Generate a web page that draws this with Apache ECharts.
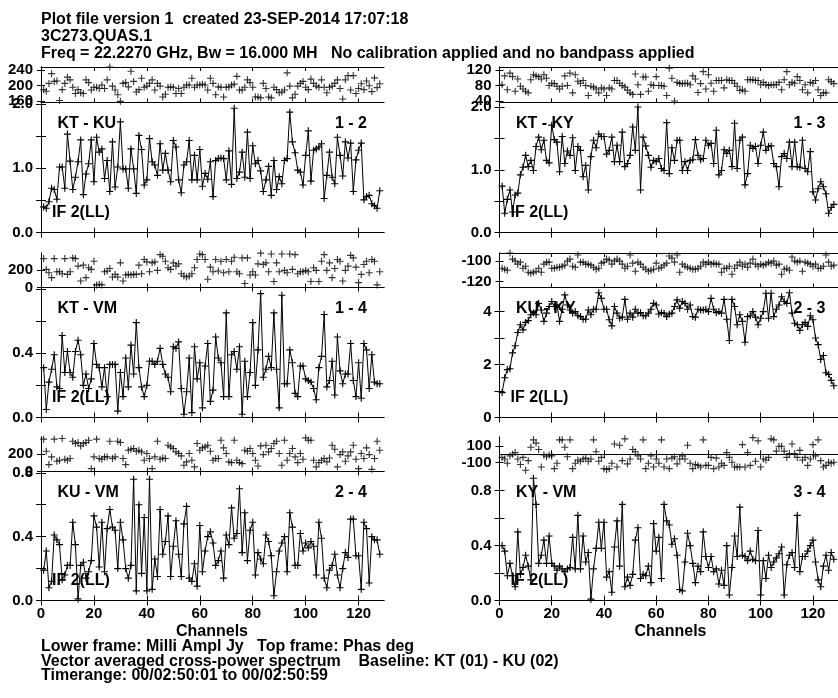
<!DOCTYPE html>
<html>
<head>
<meta charset="utf-8">
<script src="https://cdn.jsdelivr.net/npm/echarts@6/dist/echarts.min.js"></script>
<style>
html, body { margin: 0; padding: 0; background: #fff; }
#chart { width: 838px; height: 698px; }
</style>
</head>
<body>
<div id="chart"></div>
<script>
// channel axis ticks
var xTicks = [0, 20, 40, 60, 80, 100, 120];

// amplitudes (lower frames), channels 1..128
var ampKTKU = [0.40,0.38,0.48,0.69,0.67,0.52,1.02,1.02,0.69,1.53,
 1.11,0.67,0.86,1.10,1.44,0.59,0.91,1.07,1.44,0.79,
 1.48,1.25,1.30,0.84,1.12,0.64,1.41,0.71,1.02,1.72,
 0.99,0.99,0.69,1.30,0.99,0.61,1.51,1.29,0.74,0.82,
 1.46,1.10,1.05,0.89,1.38,0.97,1.23,0.97,0.79,1.43,
 1.33,0.82,0.62,1.05,1.10,1.43,0.82,1.20,0.82,1.29,
 0.72,0.92,0.83,1.10,0.56,1.12,1.15,1.16,1.15,0.82,
 1.27,0.75,1.93,0.84,0.94,1.25,0.86,1.56,0.84,1.35,
 1.07,1.12,0.96,0.64,0.82,1.03,0.58,1.12,0.67,0.87,
 0.76,1.12,1.15,1.87,1.41,1.24,0.97,0.94,0.74,1.20,
 1.58,0.80,1.28,1.30,1.33,1.38,0.53,0.89,1.25,0.86,
 0.76,1.48,1.20,0.88,1.41,1.16,1.39,0.64,1.13,1.28,
 1.39,0.51,0.56,0.58,0.45,0.42,0.38,0.65];

var ampKTKY = [0.74,0.31,0.53,0.68,0.33,0.60,0.63,0.92,1.04,1.23,
 1.05,1.15,0.99,1.37,1.52,1.32,1.47,1.15,1.11,1.71,
 1.48,1.44,0.97,1.53,1.10,1.30,1.23,1.51,0.99,1.37,
 1.31,0.89,1.07,0.68,1.21,1.47,1.35,1.57,1.53,1.53,
 1.25,1.31,1.52,1.13,1.39,1.13,1.60,1.05,1.10,1.23,
 1.68,1.31,2.00,0.68,1.52,1.38,1.23,1.04,1.15,1.13,
 1.18,1.02,0.99,1.75,0.94,1.35,1.15,1.47,1.47,0.99,
 1.13,0.99,1.15,1.16,1.48,1.23,1.16,1.18,1.47,1.39,
 1.42,1.10,1.63,0.92,0.99,1.32,1.26,1.31,1.05,1.74,
 1.02,1.47,1.52,0.76,0.94,1.39,1.34,1.37,1.10,1.39,
 1.60,1.31,1.37,1.38,1.10,1.05,0.73,1.21,1.26,1.18,
 1.44,1.05,1.44,1.05,1.04,1.47,1.02,0.97,1.29,0.65,
 0.52,0.70,0.81,0.73,0.62,0.31,0.40,0.45];

var ampKTVM = [0.31,0.05,0.22,0.30,0.39,0.19,0.18,0.51,0.28,0.41,
 0.28,0.25,0.41,0.48,0.39,0.20,0.27,0.18,0.24,0.46,
 0.33,0.31,0.19,0.31,0.13,0.33,0.33,0.33,0.04,0.28,
 0.13,0.37,0.19,0.45,0.27,0.59,0.31,0.19,0.13,0.20,
 0.35,0.35,0.33,0.35,0.43,0.33,0.27,0.25,0.16,0.44,
 0.43,0.47,0.18,0.02,0.16,0.37,0.03,0.44,0.24,0.34,
 0.06,0.32,0.46,0.10,0.17,0.50,0.37,0.34,0.13,0.65,
 0.13,0.39,0.41,0.30,0.44,0.02,0.35,0.13,0.28,0.59,
 0.20,0.42,0.77,0.25,0.30,0.38,0.31,0.65,0.30,0.06,
 0.76,0.21,0.21,0.42,0.34,0.15,0.13,0.32,0.32,0.24,
 0.23,0.22,0.18,0.11,0.31,0.38,0.64,0.19,0.23,0.35,
 0.14,0.50,0.29,0.21,0.27,0.27,0.46,0.23,0.13,0.34,
 0.12,0.46,0.42,0.18,0.39,0.22,0.21,0.21];

var ampKUKY = [0.94,1.50,1.81,1.84,2.44,2.71,3.21,3.50,3.31,3.59,
 3.66,3.88,3.96,3.88,4.31,4.06,3.63,3.94,4.19,4.38,
 4.19,4.25,3.63,4.09,4.63,4.25,4.06,3.94,4.00,3.84,
 3.81,3.71,3.71,4.06,3.88,4.09,4.09,4.71,4.50,4.09,
 4.09,3.69,3.46,4.19,3.94,3.75,3.79,4.46,3.71,3.94,
 3.79,4.09,3.94,3.96,3.84,3.84,3.94,4.09,4.31,4.25,
 3.91,3.96,3.94,3.81,3.91,3.94,4.19,4.44,4.13,4.38,
 4.31,4.09,4.25,3.81,3.79,4.09,4.06,4.06,4.09,4.00,
 4.50,4.09,3.96,4.00,3.94,4.46,3.71,2.91,4.46,4.19,
 3.50,3.88,3.63,2.84,3.81,3.84,4.00,3.79,3.50,3.75,
 4.00,4.69,3.75,4.69,3.81,4.09,4.25,4.56,4.38,4.31,
 4.71,3.94,3.56,3.50,3.29,3.50,3.59,3.44,3.84,3.69,
 3.00,2.75,2.19,2.34,1.69,1.63,1.40,1.20];

var ampKUVM = [0.19,0.31,0.08,0.12,0.41,0.38,0.35,0.13,0.16,0.22,
 0.22,0.49,0.35,0.01,0.22,0.24,0.14,0.18,0.25,0.53,
 0.46,0.21,0.49,0.18,0.45,0.57,0.46,0.44,0.20,0.49,
 0.38,0.20,0.14,0.22,0.76,0.06,0.60,0.17,0.52,0.06,
 0.76,0.07,0.26,0.15,0.57,0.29,0.37,0.53,0.15,0.34,
 0.50,0.29,0.15,0.48,0.59,0.14,0.12,0.23,0.09,0.47,
 0.18,0.31,0.40,0.43,0.36,0.22,0.25,0.31,0.14,0.41,
 0.35,0.58,0.39,0.42,0.70,0.30,0.55,0.25,0.44,0.49,
 0.16,0.30,0.26,0.23,0.41,0.37,0.28,0.03,0.18,0.31,
 0.36,0.40,0.18,0.55,0.46,0.22,0.22,0.42,0.31,0.36,
 0.33,0.37,0.34,0.16,0.49,0.39,0.14,0.08,0.19,0.22,
 0.29,0.16,0.08,0.20,0.30,0.27,0.51,0.51,0.28,0.28,
 0.07,0.49,0.45,0.11,0.40,0.38,0.38,0.29];

var ampKYVM = [0.40,0.36,0.18,0.27,0.18,0.10,0.50,0.19,0.24,0.33,
 0.25,0.15,0.89,0.70,0.27,0.33,0.44,0.27,0.47,0.27,
 0.25,0.22,0.25,0.23,0.21,0.23,0.24,0.46,0.23,0.62,
 0.23,0.47,0.28,0.35,0.01,0.23,0.38,0.57,0.38,0.57,
 0.17,0.21,0.06,0.39,0.58,0.25,0.70,0.10,0.17,0.11,
 0.19,0.44,0.53,0.16,0.19,0.18,0.25,0.13,0.56,0.36,
 0.46,0.16,0.70,0.58,0.55,0.41,0.45,0.33,0.08,0.07,
 0.28,0.49,0.40,0.27,0.13,0.25,0.21,0.50,0.32,0.24,
 0.32,0.21,0.23,0.12,0.22,0.11,0.40,0.04,0.24,0.47,
 0.32,0.68,0.33,0.32,0.29,0.36,0.30,0.29,0.51,0.04,
 0.29,0.16,0.33,0.24,0.28,0.31,0.34,0.39,0.04,0.26,
 0.33,0.35,0.24,0.62,0.21,0.32,0.32,0.36,0.40,0.44,
 0.28,0.15,0.10,0.25,0.33,0.22,0.35,0.30];

// phases (top frames), degrees
var phKTKU = [190,186,206,231,211,212,162,190,206,222,
 215,196,180,190,182,180,215,208,189,196,
 196,193,202,193,215,248,199,189,177,160,
 206,208,197,237,211,184,190,219,196,199,
 206,215,189,206,199,171,178,196,197,196,
 180,193,180,196,202,202,219,196,202,202,
 204,202,189,219,206,177,197,196,171,196,
 197,202,204,224,189,189,196,215,208,196,
 171,171,169,206,193,171,169,196,190,182,
 184,189,233,199,169,178,199,206,211,196,
 190,217,206,199,196,215,196,182,196,199,
 206,215,193,166,215,226,189,226,180,193,
 205,190,212,200,185,220,195,205];

var phKTKY = [82,105,69,112,103,65,97,78,71,65,
 61,95,108,105,103,97,108,99,80,86,
 85,78,71,78,105,80,112,61,108,91,
 86,93,80,54,78,76,71,61,74,71,
 54,74,71,93,93,86,80,76,68,61,
 57,110,82,57,102,102,65,82,80,103,
 80,80,78,54,125,99,40,88,85,85,
 86,86,82,105,97,62,85,116,71,108,
 86,65,93,93,93,74,95,93,93,86,
 78,67,69,65,95,95,95,93,93,82,
 88,82,80,82,82,82,88,69,95,116,
 82,88,86,103,93,69,82,61,88,86,
 93,69,54,61,61,95,90,85];

var phKTVM = [335,210,171,114,335,183,183,160,335,152,
 183,343,335,248,76,259,114,229,210,305,
 30,38,30,183,191,221,122,152,122,286,
 76,145,152,145,152,152,259,160,324,297,
 183,286,297,198,381,362,305,229,210,286,
 248,274,160,133,122,133,160,229,324,389,
 381,324,95,236,183,324,191,305,171,324,
 183,305,351,183,160,343,46,343,145,183,
 145,274,398,267,286,183,389,69,286,183,
 389,198,171,389,210,381,160,183,183,198,
 183,69,229,198,69,305,381,198,286,114,
 221,324,305,76,198,248,373,343,236,57,
 152,267,305,171,324,305,30,183];

var phKUKY = [-107,-108,-109,-92,-98,-100,-103,-101,-107,-105,
 -111,-112,-111,-110,-107,-111,-103,-101,-101,-107,
 -107,-106,-106,-105,-104,-100,-98,-105,-106,-94,
 -101,-101,-103,-103,-104,-106,-108,-107,-102,-101,
 -98,-99,-103,-100,-98,-100,-103,-107,-105,-94,
 -102,-110,-101,-103,-106,-108,-110,-109,-108,-102,
 -107,-106,-104,-102,-95,-97,-101,-94,-111,-103,
 -105,-106,-107,-108,-108,-107,-105,-101,-103,-101,
 -103,-102,-103,-103,-111,-107,-107,-105,-113,-107,
 -104,-101,-105,-103,-106,-102,-98,-103,-105,-103,
 -104,-103,-101,-102,-100,-104,-103,-113,-108,-107,
 -109,-96,-100,-101,-100,-110,-101,-102,-103,-105,
 -103,-107,-107,-105,-94,-101,-105,-104];

var phKUVM = [375,235,80,169,375,119,130,382,142,130,
 150,351,324,336,297,324,336,363,33,169,
 375,150,142,169,169,351,150,169,351,336,
 150,80,246,258,266,235,246,227,130,208,
 150,33,169,351,142,157,150,305,285,266,
 227,208,181,72,111,208,130,53,324,246,
 274,285,305,235,130,150,150,363,274,208,
 111,103,363,130,103,91,246,235,266,208,
 130,64,297,196,305,227,266,324,351,208,
 72,363,130,208,266,169,103,208,142,390,
 363,363,130,53,103,130,150,111,157,305,
 258,53,196,227,119,181,227,305,142,33,
 208,150,274,196,25,150,351,246];

var phKYVM = [-39,-59,-110,-20,0,20,-59,-126,-39,-196,
 -79,86,177,137,59,-157,-8,-31,-8,-20,
 -177,-110,177,177,86,-31,177,-177,-110,-71,
 -86,-59,-47,-86,-59,177,31,-86,-39,-177,
 -188,-177,-110,126,-157,110,-79,189,-118,-59,
 59,31,-20,-59,177,-177,-110,-20,-157,-59,
 -110,177,-157,-59,-177,-47,-31,-118,-59,-20,
 -59,110,-110,-177,-126,-137,-157,177,-137,-137,
 -39,-177,-47,-157,-110,-137,20,-39,-98,-157,
 -157,-157,118,-157,20,-137,204,-86,165,-157,
 -59,-71,-39,189,177,39,98,98,39,-39,
 8,126,8,-39,47,-71,-39,-137,-59,118,
 -20,177,-79,-157,-137,-98,-110,-98];

var titleLines = ['Plot file version 1  created 23-SEP-2014 17:07:18',
  '3C273.QUAS.1',
  'Freq = 22.2270 GHz, Bw = 16.000 MH   No calibration applied and no bandpass applied'];
var footLines = ['Lower frame: Milli Ampl Jy   Top frame: Phas deg',
  'Vector averaged cross-power spectrum    Baseline: KT (01) - KU (02)',
  'Timerange: 00/02:50:01 to 00/02:50:59'];

var panels = [
  {col: 0, row: 0, name: 'KT - KU', pair: '1 - 2', amp: ampKTKU, ph: phKTKU,
   aMax: 2.0, aTicks: [0, 0.5, 1, 1.5, 2], aLabels: [0, 1, 2], aDec: 1,
   pMin: 157, pMax: 248, pTicks: [160, 200, 240]},
  {col: 1, row: 0, name: 'KT - KY', pair: '1 - 3', amp: ampKTKY, ph: phKTKY,
   aMax: 2.05, aTicks: [0, 0.5, 1, 1.5, 2], aLabels: [0, 1, 2], aDec: 1,
   pMin: 36, pMax: 128, pTicks: [40, 80, 120]},
  {col: 0, row: 1, name: 'KT - VM', pair: '1 - 4', amp: ampKTVM, ph: phKTVM,
   aMax: 0.8, aTicks: [0, 0.2, 0.4, 0.6, 0.8], aLabels: [0, 0.4], aDec: 1,
   pMin: 0, pMax: 400, pTicks: [0, 200]},
  {col: 1, row: 1, name: 'KU - KY', pair: '2 - 3', amp: ampKUKY, ph: phKUKY,
   aMax: 4.86, aTicks: [0, 1, 2, 3, 4], aLabels: [0, 2, 4], aDec: 0,
   pMin: -126, pMax: -92, pTicks: [-120, -100]},
  {col: 0, row: 2, name: 'KU - VM', pair: '2 - 4', amp: ampKUVM, ph: phKUVM,
   aMax: 0.8, aTicks: [0, 0.2, 0.4, 0.6, 0.8], aLabels: [0, 0.4, 0.8], aDec: 1,
   pMin: 0, pMax: 400, pTicks: [0, 200]},
  {col: 1, row: 2, name: 'KY - VM', pair: '3 - 4', amp: ampKYVM, ph: phKYVM,
   aMax: 0.93, aTicks: [0, 0.2, 0.4, 0.6, 0.8], aLabels: [0, 0.4, 0.8], aDec: 1,
   pMin: -212, pMax: 212, pTicks: [-100, 100], zeroLine: true}
];

var colX = [41, 499.5];
var panelW = 343;
var xMax = 129.6;
var rows = [
  {phTop: 67, phBot: 102.5, amTop: 103.8, amBot: 232.7},
  {phTop: 253, phBot: 287.5, amTop: 288.8, amBot: 417.5},
  {phTop: 437, phBot: 471.5, amTop: 472.8, amBot: 600.5}
];

var FONT = '"Liberation Sans", Arial, sans-serif';
var plusSym = 'path://M0,4.2H10V5.8H0Z M4.2,0H5.8V10H4.2Z';

var grids = [], xAxes = [], yAxes = [], series = [], graphics = [];

function toPairs(arr) {
  return arr.map(function (v, i) { return [i + 1, v]; });
}

function addFrame(left, top, bottom, yMin, yMax, yTicks, yLabels, yDec, showX, tickLen) {
  var gi = grids.length;
  grids.push({left: left, top: top, width: panelW, height: bottom - top, show: false});
  var line = {show: true, lineStyle: {color: '#000', width: 1}};
  var lbl = {fontFamily: FONT, fontSize: 15, fontWeight: 'bold', color: '#000', lineHeight: 10,
    showMinLabel: true, showMaxLabel: true, hideOverlap: false};
  [['bottom', showX], ['top', false]].forEach(function (p) {
    xAxes.push({
      gridIndex: gi, type: 'value', position: p[0], min: 0, max: xMax,
      axisLine: line,
      axisTick: {show: true, inside: true, length: tickLen, customValues: xTicks, lineStyle: {color: '#000'}},
      axisLabel: Object.assign({show: p[1], customValues: xTicks, margin: 8}, lbl),
      splitLine: {show: false}
    });
  });
  [['left', true], ['right', false]].forEach(function (p) {
    yAxes.push({
      gridIndex: gi, type: 'value', position: p[0], min: yMin, max: yMax,
      axisLine: line,
      axisTick: {show: true, inside: true, length: tickLen, customValues: yTicks, lineStyle: {color: '#000'}},
      axisLabel: Object.assign({show: p[1], customValues: yLabels, margin: 8,
        formatter: function (v) { return Number(v).toFixed(yDec); }}, lbl),
      splitLine: {show: false}
    });
  });
  return gi;
}

function addText(x, y, text, align) {
  graphics.push({
    type: 'text', x: x, y: y, silent: true,
    style: {text: text, fill: '#000', font: 'bold 16px ' + FONT,
      textAlign: align || 'left', textVerticalAlign: 'middle'}
  });
}

panels.forEach(function (p) {
  var r = rows[p.row];
  var x0 = colX[p.col];
  var last = p.row === 2;

  var gp = addFrame(x0, r.phTop, r.phBot, p.pMin, p.pMax, p.pTicks, p.pTicks, 0, false, 4);
  var phSeries = {
    type: 'scatter', xAxisIndex: 2 * gp, yAxisIndex: 2 * gp,
    data: toPairs(p.ph), symbol: plusSym, symbolSize: 7,
    itemStyle: {color: '#000'}, silent: true, animation: false
  };
  if (p.zeroLine) {
    phSeries.markLine = {silent: true, symbol: 'none', animation: false,
      label: {show: false}, lineStyle: {color: '#000', width: 1, type: 'solid'},
      data: [{yAxis: 0}]};
  }
  series.push(phSeries);

  var ga = addFrame(x0, r.amTop, r.amBot, 0, p.aMax, p.aTicks, p.aLabels, p.aDec, last, 5);
  series.push({
    type: 'line', xAxisIndex: 2 * ga, yAxisIndex: 2 * ga,
    data: toPairs(p.amp), symbol: plusSym, symbolSize: 7, showAllSymbol: true,
    lineStyle: {color: '#000', width: 1}, itemStyle: {color: '#000'},
    silent: true, animation: false
  });

  addText(x0 + 16.5, r.amTop + 19.5, p.name);
  addText(x0 + 326, r.amTop + 19.5, p.pair, 'right');
  addText(x0 + 11, r.amBot - 20, 'IF 2(LL)');
  if (last) addText(x0 + panelW / 2 - 0.5, 632, 'Channels', 'center');
});

addText(41, 20, titleLines[0]);
addText(41, 37, titleLines[1]);
addText(41, 53.5, titleLines[2]);
addText(41, 647, footLines[0]);
addText(41, 661.5, footLines[1]);
addText(41, 676, footLines[2]);

var chart = echarts.init(document.getElementById('chart'), null, {renderer: 'canvas'});
chart.setOption({
  animation: false,
  backgroundColor: '#fff',
  grid: grids,
  xAxis: xAxes,
  yAxis: yAxes,
  series: series,
  graphic: graphics
});
</script>
</body>
</html>
